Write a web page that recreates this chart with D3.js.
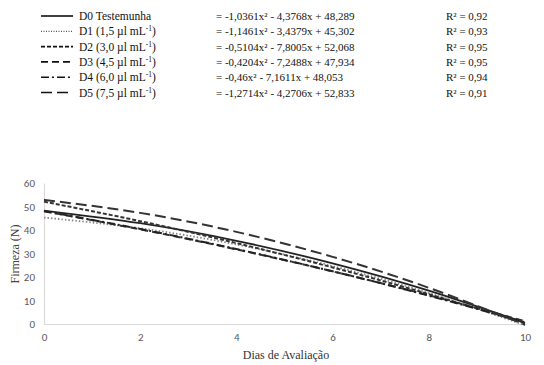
<!DOCTYPE html>
<html>
<head>
<meta charset="utf-8">
<script src="https://cdn.jsdelivr.net/npm/d3@7.9.0/dist/d3.min.js"></script>
<style>
  body { margin: 0; background: #fff; }
  svg { display: block; }
  .serif { font-family: "Liberation Serif", "Times New Roman", serif; }
  .sans { font-family: Carlito, "Open Sans", "Liberation Sans", sans-serif; }
</style>
</head>
<body>
<svg width="544" height="365"></svg>
<script>
// evaluation days
const days = [0, 2, 4, 6, 8, 10];

// series (firmness, N)
const seriesNames = ["D0 Testemunha", "D1 (1,5 µl mL", "D2 (3,0 µl mL", "D3 (4,5 µl mL", "D4 (6,0 µl mL", "D5 (7,5 µl mL"];
const dose0 = [48.29, 42.88, 35.39, 25.83, 14.2, 0.5];
const dose1 = [45.3, 40.72, 33.84, 24.67, 13.21, -0.54];
const dose2 = [52.07, 43.76, 34.43, 24.07, 12.7, 0.31];
const dose3 = [47.93, 40.26, 31.75, 22.4, 12.21, 1.18];
const dose4 = [48.05, 40.43, 31.89, 22.43, 12.05, 0.75];
const dose5 = [52.83, 47.29, 39.21, 28.58, 15.41, -0.31];
const allSeries = [dose0, dose1, dose2, dose3, dose4, dose5];

const equations = [
  "= -1,0361x² - 4,3768x + 48,289",
  "= -1,1461x² - 3,4379x + 45,302",
  "= -0,5104x² - 7,8005x + 52,068",
  "= -0,4204x² - 7,2488x + 47,934",
  "= -0,46x² - 7,1611x + 48,053",
  "= -1,2714x² - 4,2706x + 52,833"
];
const r2 = ["R² = 0,92", "R² = 0,93", "R² = 0,95", "R² = 0,95", "R² = 0,94", "R² = 0,91"];

const xTicks = [0, 2, 4, 6, 8, 10];
const yTicks = [0, 10, 20, 30, 40, 50, 60];

// line styles per series
const dashes = ["none", "1.5,2", "4,2", "7,4", "8,3,2,3", "11,5"];
const strokes = ["#222", "#888", "#333", "#333", "#222", "#333"];
const widths = [1.8, 1.8, 2, 2, 2, 2];

const svg = d3.select("svg");

// legend block
const leg = svg.append("g");
seriesNames.forEach((name, i) => {
  const y = 16 + i * 15.3;
  leg.append("line")
    .attr("x1", 41).attr("x2", 73).attr("y1", y).attr("y2", y)
    .attr("stroke", i === 1 ? "#555" : "#111")
    .attr("stroke-width", i === 1 ? 1.2 : 1.6)
    .attr("stroke-dasharray", i === 1 ? "1,1.5" : dashes[i]);
  const t = leg.append("text").attr("class", "serif")
    .attr("x", 79).attr("y", y + 4)
    .attr("font-size", 11.5).attr("fill", "#111");
  t.append("tspan").text(name);
  if (i > 0) {
    t.append("tspan").attr("font-size", 7.5).attr("dy", -4).text("-1");
    t.append("tspan").attr("dy", 4).text(")");
  }
  leg.append("text").attr("class", "serif")
    .attr("x", 216).attr("y", y + 4)
    .attr("font-size", 11).attr("fill", "#111")
    .text(equations[i]);
  leg.append("text").attr("class", "serif")
    .attr("x", 446).attr("y", y + 4)
    .attr("font-size", 11).attr("fill", "#111")
    .text(r2[i]);
});

// chart
const x = d3.scaleLinear().domain([0, 10]).range([44, 525]);
const y = d3.scaleLinear().domain([0, 60]).range([324, 183]);

const gx = svg.append("g").attr("transform", "translate(0,324)")
  .call(d3.axisBottom(x).tickValues(xTicks).tickSize(0).tickPadding(9));
const gy = svg.append("g").attr("transform", "translate(44,0)")
  .call(d3.axisLeft(y).tickValues(yTicks).tickSize(0).tickPadding(9));
[gx, gy].forEach(g => {
  g.attr("font-family", null);
  g.select(".domain").attr("stroke", "#d9d9d9").attr("stroke-width", 1.2);
  g.selectAll("text").attr("class", "sans").attr("font-size", 11).attr("fill", "#595959");
});

const line = d3.line()
  .x((d, i) => x(days[i]))
  .y(d => y(d))
  .curve(d3.curveNatural);

allSeries.forEach((s, i) => {
  svg.append("path")
    .datum(s)
    .attr("d", line)
    .attr("fill", "none")
    .attr("stroke", strokes[i])
    .attr("stroke-width", widths[i])
    .attr("stroke-dasharray", dashes[i]);
});

// axis titles
svg.append("text").attr("class", "serif")
  .attr("transform", "translate(19,254) rotate(-90)")
  .attr("text-anchor", "middle")
  .attr("font-size", 12).attr("fill", "#444")
  .text("Firmeza (N)");
svg.append("text").attr("class", "serif")
  .attr("x", 286).attr("y", 359)
  .attr("text-anchor", "middle")
  .attr("font-size", 12).attr("fill", "#333")
  .text("Dias de Avaliação");
</script>
</body>
</html>
